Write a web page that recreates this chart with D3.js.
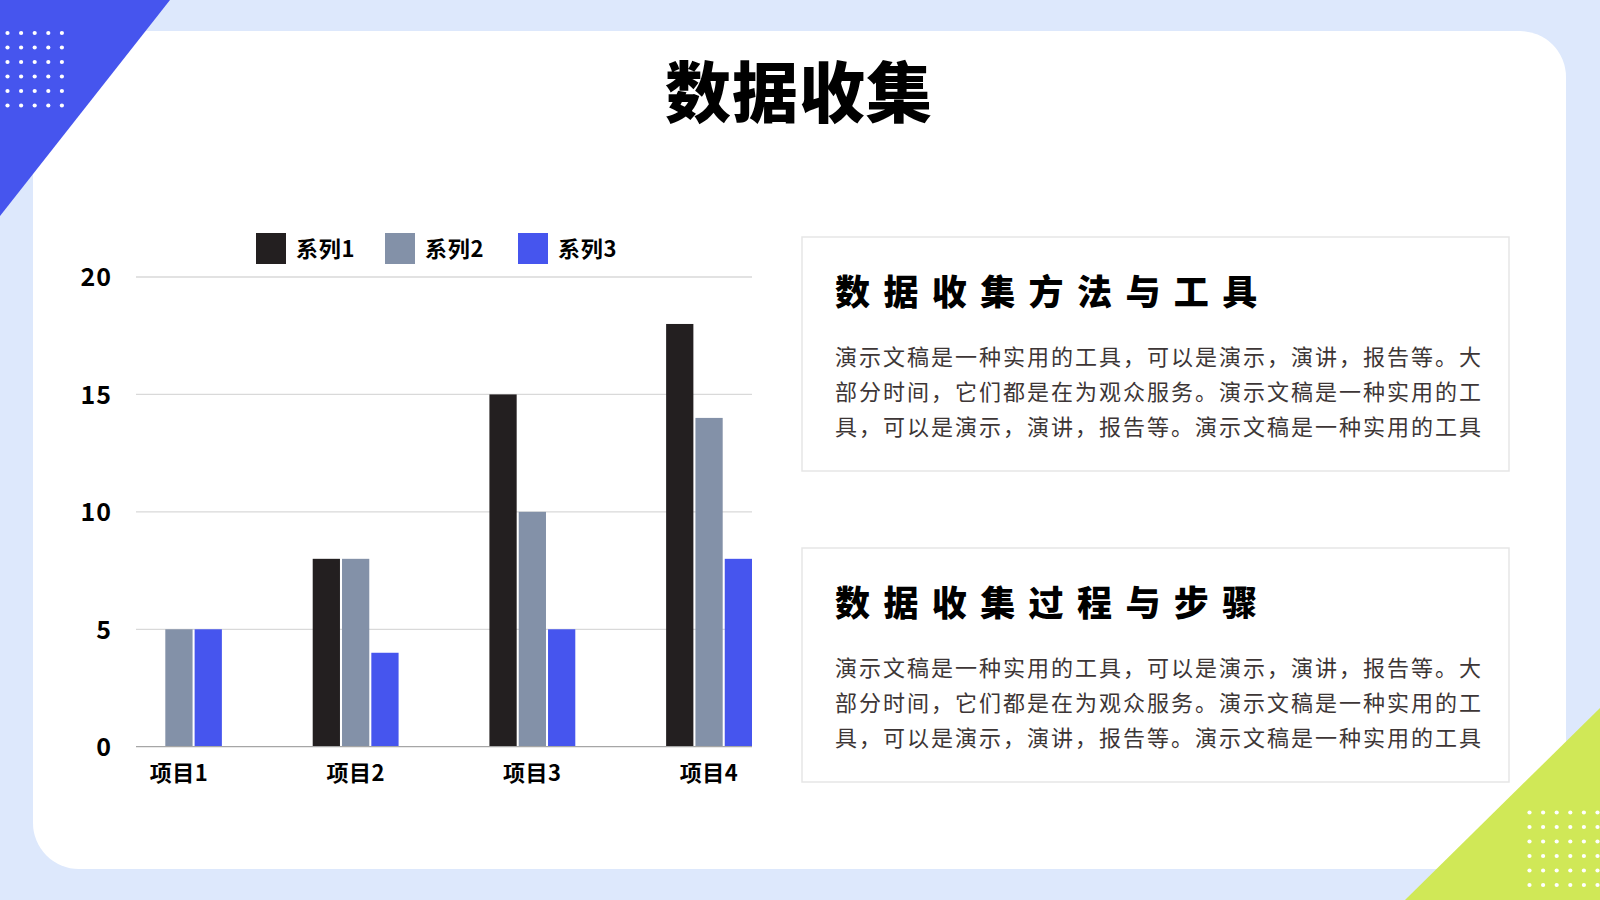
<!DOCTYPE html>
<html>
<head>
<meta charset="utf-8">
<script src="https://cdn.jsdelivr.net/npm/d3@7"></script>
<style>
  html, body { margin: 0; padding: 0; background: #dde8fc; }
  svg { display: block; }
  text { font-family: "Noto Sans CJK SC", "Noto Sans", sans-serif; }
</style>
</head>
<body>
<svg id="chart" width="1600" height="900"></svg>
<script>
const categories = ['项目1', '项目2', '项目3', '项目4'];
const seriesNames = ['系列1', '系列2', '系列3'];
const series1 = [0, 8, 15, 18];
const series2 = [5, 8, 10, 14];
const series3 = [5, 4, 5, 8];
const yTicks = [0, 5, 10, 15, 20];
const seriesColors = ['#231f20', '#8391a8', '#4655ee'];

const cardTitles = ['数据收集方法与工具', '数据收集过程与步骤'];
const cardLines = [
  '演示文稿是一种实用的工具，可以是演示，演讲，报告等。大',
  '部分时间，它们都是在为观众服务。演示文稿是一种实用的工',
  '具，可以是演示，演讲，报告等。演示文稿是一种实用的工具'
];

const svg = d3.select('#chart');

// page background and white panel
svg.append('rect')
  .attr('width', 1600).attr('height', 900)
  .attr('fill', '#dde8fc');
svg.append('rect')
  .attr('x', 33).attr('y', 31)
  .attr('width', 1533).attr('height', 838)
  .attr('rx', 46)
  .attr('fill', '#ffffff');

// corner decorations
svg.append('path')
  .attr('d', 'M0,0 L170,0 L0,216 Z')
  .attr('fill', '#4655ee');
svg.append('path')
  .attr('d', 'M1600,708 L1600,900 L1405,900 Z')
  .attr('fill', '#d0e857');

const dotGrid = (x0, y0, cols, rows, dx, dy) => {
  const pts = [];
  for (const i of d3.range(cols)) {
    for (const j of d3.range(rows)) pts.push([x0 + i * dx, y0 + j * dy]);
  }
  return pts;
};
svg.append('g')
  .selectAll('circle')
  .data(dotGrid(7.5, 33, 5, 6, 13.6, 14.5))
  .enter().append('circle')
    .attr('cx', d => d[0]).attr('cy', d => d[1])
    .attr('r', 2.1).attr('fill', '#ffffff');
svg.append('g')
  .selectAll('circle')
  .data(dotGrid(1529.5, 812.5, 6, 6, 13.6, 14.5))
  .enter().append('circle')
    .attr('cx', d => d[0]).attr('cy', d => d[1])
    .attr('r', 2.1).attr('fill', '#ffffff');

// main title
svg.append('text')
  .attr('x', 799).attr('y', 88)
  .attr('text-anchor', 'middle')
  .attr('dominant-baseline', 'central')
  .attr('font-size', 66)
  .attr('font-weight', 900)
  .attr('letter-spacing', 1)
  .attr('fill', '#000000')
  .text('数据收集');

// chart
const x = d3.scaleBand()
  .domain(categories)
  .range([136, 752])
  .paddingInner(0.514)
  .paddingOuter(0);
const xSub = d3.scaleBand()
  .domain(d3.range(seriesNames.length))
  .range([0, x.bandwidth()])
  .paddingInner(0.07);
const y = d3.scaleLinear()
  .domain([0, 20])
  .range([746.7, 277]);

const grid = svg.append('g').classed('grid', true);
grid.selectAll('line')
  .data(yTicks.filter(t => t !== 0))
  .enter().append('line')
    .attr('x1', 136).attr('x2', 752)
    .attr('y1', d => y(d)).attr('y2', d => y(d))
    .attr('stroke', '#d9d9d9')
    .attr('stroke-width', 1.3);

const yAxis = d3.axisLeft(y)
  .tickValues(yTicks)
  .tickSize(0)
  .tickPadding(0);
const yAxisG = svg.append('g')
  .attr('transform', 'translate(112,0)')
  .call(yAxis);
yAxisG.select('.domain').remove();
yAxisG.selectAll('text')
  .attr('font-size', 25)
  .attr('font-weight', 700)
  .attr('letter-spacing', 1)
  .attr('fill', '#000000')
  .attr('dy', '0.35em');

const seriesData = [series1, series2, series3];
const groups = svg.append('g')
  .selectAll('g')
  .data(categories)
  .enter().append('g')
    .attr('transform', d => `translate(${x(d)},0)`);
groups.selectAll('rect')
  .data((d, i) => seriesData.map((s, k) => ({ k, value: s[i] })))
  .enter().append('rect')
    .attr('x', d => xSub(d.k))
    .attr('width', xSub.bandwidth())
    .attr('y', d => y(d.value))
    .attr('height', d => y(0) - y(d.value))
    .attr('fill', d => seriesColors[d.k]);

svg.append('line')
  .attr('x1', 136).attr('x2', 752)
  .attr('y1', y(0)).attr('y2', y(0))
  .attr('stroke', '#a6a6a6')
  .attr('stroke-width', 1.3);

const xAxis = d3.axisBottom(x).tickSize(0).tickPadding(0);
const xAxisG = svg.append('g')
  .attr('transform', `translate(0,${y(0)})`)
  .call(xAxis);
xAxisG.select('.domain').remove();
xAxisG.selectAll('text')
  .attr('font-size', 22)
  .attr('font-weight', 700)
  .attr('letter-spacing', 0.5)
  .attr('fill', '#000000')
  .attr('dy', 0)
  .attr('y', 34);

// legend
const legendX = [256, 385, 518];
const legend = svg.append('g')
  .selectAll('g')
  .data(seriesNames)
  .enter().append('g')
    .attr('transform', (d, i) => `translate(${legendX[i]},233)`);
legend.append('rect')
  .attr('width', 30).attr('height', 31)
  .attr('fill', (d, i) => seriesColors[i]);
legend.append('text')
  .attr('x', 40).attr('y', 14)
  .attr('dominant-baseline', 'central')
  .attr('font-size', 22)
  .attr('font-weight', 700)
  .attr('letter-spacing', 0.8)
  .attr('fill', '#000000')
  .text(d => d);

// text cards
const cardTop = [237, 548];
const cards = svg.append('g')
  .selectAll('g')
  .data(cardTitles)
  .enter().append('g')
    .attr('transform', (d, i) => `translate(802,${cardTop[i]})`);
cards.append('rect')
  .attr('width', 707).attr('height', 234)
  .attr('fill', '#ffffff')
  .attr('stroke', '#e6e6e6')
  .attr('stroke-width', 1.5);
cards.append('text')
  .attr('x', 33).attr('y', 52)
  .attr('dominant-baseline', 'central')
  .attr('font-size', 35)
  .attr('font-weight', 900)
  .attr('letter-spacing', 13.4)
  .attr('fill', '#000000')
  .text(d => d);
cards.selectAll('text.body')
  .data(cardLines)
  .enter().append('text')
    .classed('body', true)
    .attr('x', 33)
    .attr('y', (d, i) => 118 + i * 35)
    .attr('dominant-baseline', 'central')
    .attr('font-size', 22)
    .attr('letter-spacing', 2.0)
    .attr('fill', '#3d3636')
    .text(d => d);
</script>
</body>
</html>
